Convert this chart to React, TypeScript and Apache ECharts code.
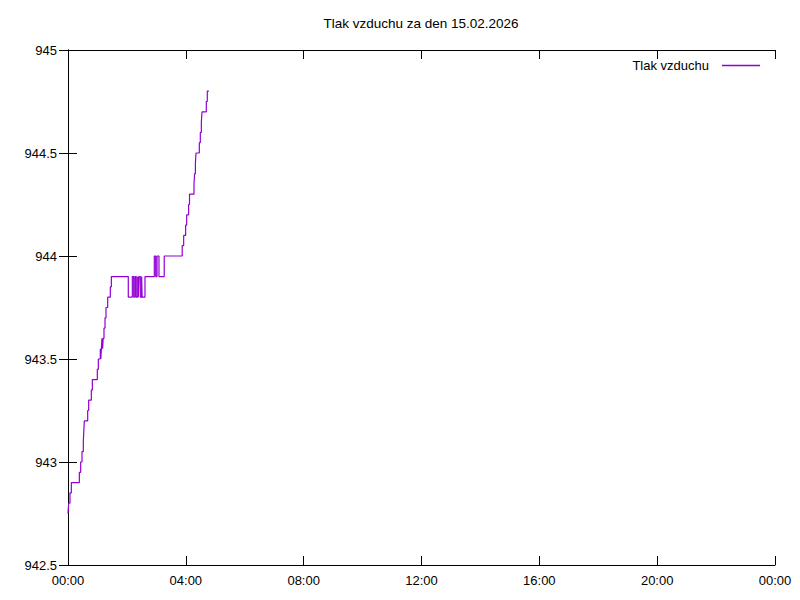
import React, { useEffect, useRef } from "react";
import * as echarts from "echarts";

const titleText = "Tlak vzduchu za den 15.02.2026";
const seriesName = "Tlak vzduchu";

// minutes after midnight
const times = [
  0, 1.4, 4, 6.8, 23.1, 25.8, 28.5, 31.2, 32.2, 33.3, 40.1, 42.1, 47.5, 49.6,
  59.7, 61.8, 65.8, 66.8, 68, 69.2, 70.4, 71.6, 73.3, 75.4, 77.4, 80.8, 86.2,
  88.3, 122.8, 131, 133.8, 136.5, 139, 142, 143.2, 144.6, 147.3, 150, 151,
  156.8, 175.8, 178.6, 181.3, 185.3, 196, 232.6, 235.6, 239.6, 241.7, 245.7,
  247.5, 256.6, 258, 259.5, 260.7, 267.5, 269.5, 271.6, 273, 281.7, 283.7, 287,
];
// pressure (hPa)
const pressure = [
  942.75, 942.8, 942.85, 942.9, 942.95, 943.0, 943.05, 943.1, 943.15, 943.2,
  943.25, 943.3, 943.35, 943.4, 943.45, 943.5, 943.55, 943.5, 943.55, 943.6,
  943.55, 943.6, 943.65, 943.7, 943.75, 943.8, 943.85, 943.9, 943.8, 943.9,
  943.8, 943.9, 943.8, 943.9, 943.8, 943.9, 943.8, 943.9, 943.8, 943.9, 944.0,
  943.9, 944.0, 943.9, 944.0, 944.05, 944.1, 944.15, 944.2, 944.25, 944.3,
  944.35, 944.4, 944.45, 944.5, 944.55, 944.6, 944.65, 944.7, 944.75, 944.8,
  944.8,
];

const xMin = 0;
const xMax = 1440;
const xStep = 240;
const yMin = 942.5;
const yMax = 945;
const yStep = 0.5;

const FONT = "'Liberation Sans', Arial, sans-serif";
const LINE_COLOR = "#9400d3";

function fmtTime(v: number): string {
  const h = Math.floor(v / 60) % 24;
  const m = Math.round(v % 60);
  return String(h).padStart(2, "0") + ":" + String(m).padStart(2, "0");
}

export default function App() {
  const ref = useRef<HTMLDivElement>(null);
  useEffect(() => {
    if (!ref.current) return;
    const chart = echarts.init(ref.current, undefined, { renderer: "svg" });
    const axisLine = { show: true, lineStyle: { color: "#000", width: 1 } };
    const tick = { show: true, inside: true, length: 9, lineStyle: { color: "#000" } };
    const label = { color: "#000", fontFamily: FONT, fontSize: 13 };
    chart.setOption({
      animation: false,
      backgroundColor: "#fff",
      title: {
        text: titleText,
        left: 421,
        top: 16,
        padding: 0,
        textAlign: "center",
        textStyle: { fontFamily: FONT, fontSize: 13.5, fontWeight: "normal", color: "#000" },
      },
      legend: {
        right: 40,
        top: 59,
        padding: 0,
        align: "right",
        icon: "rect",
        itemWidth: 38,
        itemHeight: 1.5,
        itemStyle: { color: LINE_COLOR, borderWidth: 0 },
        textStyle: { fontFamily: FONT, fontSize: 13, color: "#000", padding: [0, 8, 0, 0] },
        data: [seriesName],
      },
      grid: { left: 68, right: 25, top: 50, bottom: 35, show: false },
      xAxis: [
        {
          type: "value",
          min: xMin,
          max: xMax,
          interval: xStep,
          position: "bottom",
          axisLine,
          axisTick: tick,
          splitLine: { show: false },
          axisLabel: { ...label, margin: 9, formatter: (v: number) => fmtTime(v) },
        },
        {
          type: "value",
          min: xMin,
          max: xMax,
          interval: xStep,
          position: "top",
          axisLine,
          axisTick: tick,
          splitLine: { show: false },
          axisLabel: { show: false },
        },
      ],
      yAxis: [
        {
          type: "value",
          min: yMin,
          max: yMax,
          interval: yStep,
          position: "left",
          axisLine,
          axisTick: tick,
          splitLine: { show: false },
          axisLabel: { ...label, margin: 11 },
        },
        {
          type: "value",
          min: yMin,
          max: yMax,
          interval: yStep,
          position: "right",
          axisLine,
          axisTick: tick,
          splitLine: { show: false },
          axisLabel: { show: false },
        },
      ],
      series: [
        {
          name: seriesName,
          type: "line",
          step: "end",
          xAxisIndex: 0,
          yAxisIndex: 0,
          showSymbol: false,
          symbol: "none",
          color: LINE_COLOR,
          itemStyle: { color: LINE_COLOR },
          lineStyle: { color: LINE_COLOR, width: 1.2 },
          data: times.map((t, i) => [t, pressure[i]]),
        },
      ],
    });
    return () => chart.dispose();
  }, []);
  return <div ref={ref} style={{ width: 800, height: 600, position: "absolute", left: 0, top: 0 }} />;
}
